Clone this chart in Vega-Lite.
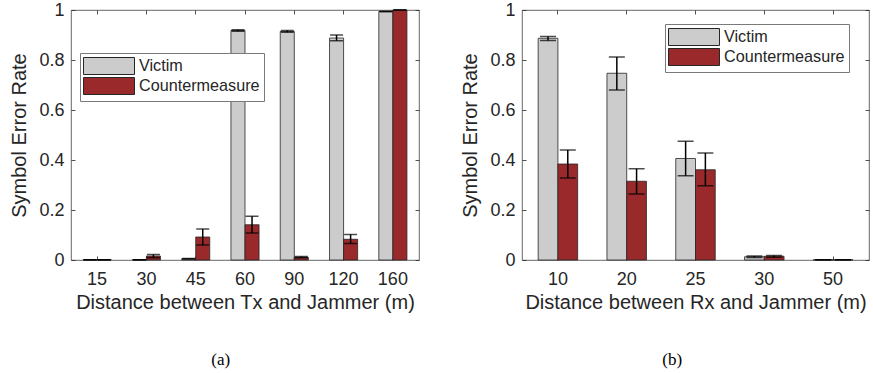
{
  "$schema": "https://vega.github.io/schema/vega-lite/v6.json",
  "padding": {"left": 9, "top": 0, "right": 0, "bottom": 0},
  "background": "white",
  "config": {
    "view": {"stroke": "#404040", "strokeWidth": 0.8},
    "axis": {
      "domain": false, "grid": false,
      "tickColor": "#262626", "tickSize": -4, "tickWidth": 0.8,
      "labelFont": "Liberation Sans", "labelFontSize": 18, "labelColor": "#262626",
      "titleFont": "Liberation Sans", "titleFontSize": 20, "titleFontWeight": "normal", "titleColor": "#262626"
    },
    "legend": {
      "orient": "none", "title": null,
      "symbolType": "M-3,-1H3V1H-3Z", "symbolSize": 289,
      "symbolStrokeColor": "#262626", "symbolStrokeWidth": 1, "symbolOpacity": 1,
      "symbolOffset": 16, "labelOffset": 21,
      "strokeColor": "#7a7a7a", "fillColor": "white", "padding": 4,
      "labelFont": "Liberation Sans", "labelFontSize": 16.2, "labelColor": "#262626",
      "rowPadding": -2.5, "labelLimit": 300
    },
    "title": {"font": "Liberation Serif", "fontSize": 17, "fontWeight": "normal", "color": "black", "orient": "bottom", "anchor": "middle", "frame": "bounds", "offset": 40}
  },
  "datasets": {
    "a": [
      {"dist": "15", "series": "Victim", "value": 0.001, "lo": 0.001, "hi": 0.001},
      {"dist": "15", "series": "Countermeasure", "value": 0.001, "lo": 0.001, "hi": 0.001},
      {"dist": "30", "series": "Victim", "value": 0.001, "lo": 0.001, "hi": 0.001},
      {"dist": "30", "series": "Countermeasure", "value": 0.016, "lo": 0.009, "hi": 0.022},
      {"dist": "45", "series": "Victim", "value": 0.005, "lo": 0.004, "hi": 0.006},
      {"dist": "45", "series": "Countermeasure", "value": 0.092, "lo": 0.06, "hi": 0.124},
      {"dist": "60", "series": "Victim", "value": 0.918, "lo": 0.915, "hi": 0.921},
      {"dist": "60", "series": "Countermeasure", "value": 0.141, "lo": 0.108, "hi": 0.175},
      {"dist": "90", "series": "Victim", "value": 0.914, "lo": 0.911, "hi": 0.918},
      {"dist": "90", "series": "Countermeasure", "value": 0.011, "lo": 0.009, "hi": 0.014},
      {"dist": "120", "series": "Victim", "value": 0.888, "lo": 0.877, "hi": 0.9},
      {"dist": "120", "series": "Countermeasure", "value": 0.083, "lo": 0.066, "hi": 0.102},
      {"dist": "160", "series": "Victim", "value": 0.994, "lo": 0.993, "hi": 0.995},
      {"dist": "160", "series": "Countermeasure", "value": 1.0, "lo": 1.0, "hi": 1.0}
    ],
    "b": [
      {"dist": "10", "series": "Victim", "value": 0.887, "lo": 0.878, "hi": 0.894},
      {"dist": "10", "series": "Countermeasure", "value": 0.384, "lo": 0.328, "hi": 0.44},
      {"dist": "20", "series": "Victim", "value": 0.747, "lo": 0.68, "hi": 0.812},
      {"dist": "20", "series": "Countermeasure", "value": 0.315, "lo": 0.264, "hi": 0.365},
      {"dist": "25", "series": "Victim", "value": 0.406, "lo": 0.337, "hi": 0.475},
      {"dist": "25", "series": "Countermeasure", "value": 0.361, "lo": 0.297, "hi": 0.428},
      {"dist": "30", "series": "Victim", "value": 0.013, "lo": 0.01, "hi": 0.016},
      {"dist": "30", "series": "Countermeasure", "value": 0.015, "lo": 0.011, "hi": 0.018},
      {"dist": "50", "series": "Victim", "value": 0.001, "lo": 0.001, "hi": 0.001},
      {"dist": "50", "series": "Countermeasure", "value": 0.001, "lo": 0.001, "hi": 0.001}
    ]
  },
  "spacing": 40,
  "resolve": {"scale": {"color": "independent", "xOffset": "independent"}, "legend": {"color": "independent"}},
  "hconcat": [
    {
      "width": 348, "height": 250,
      "data": {"name": "a"},
      "title": {"text": "(a)", "dx": 6},
      "resolve": {"axis": {"x": "independent", "y": "independent"}},
      "layer": [
        {
          "mark": {"type": "bar", "stroke": "#262626", "strokeWidth": 0.8},
          "encoding": {
            "x": {"field": "dist", "type": "nominal", "sort": ["15", "30", "45", "60", "90", "120", "160"],
                  "scale": {"paddingInner": 0.43, "paddingOuter": 0.245},
                  "axis": {"orient": "bottom", "title": "Distance between Tx and Jammer (m)", "labelAngle": 0, "labelPadding": 14, "titlePadding": 4}},
            "xOffset": {"field": "series", "type": "nominal", "sort": ["Victim", "Countermeasure"], "scale": {"paddingInner": 0, "paddingOuter": 0}},
            "y": {"field": "value", "type": "quantitative", "scale": {"domain": [0, 1], "nice": false},
                  "axis": {"orient": "left", "title": "Symbol Error Rate", "values": [0, 0.2, 0.4, 0.6, 0.8, 1], "format": "~g", "labelPadding": 11, "titlePadding": 9}},
            "color": {"field": "series", "type": "nominal", "sort": ["Victim", "Countermeasure"],
                      "scale": {"domain": ["Victim", "Countermeasure"], "range": ["#cccccc", "#99292a"]},
                      "legend": {"legendX": 9, "legendY": 43}}
          }
        },
        {
          "mark": {"type": "rule", "color": "black", "strokeWidth": 1.5},
          "encoding": {
            "x": {"field": "dist", "type": "nominal", "sort": ["15", "30", "45", "60", "90", "120", "160"], "axis": null},
            "xOffset": {"field": "series", "type": "nominal", "sort": ["Victim", "Countermeasure"]},
            "y": {"field": "lo", "type": "quantitative", "axis": null},
            "y2": {"field": "hi"}
          }
        },
        {
          "mark": {"type": "tick", "color": "black", "thickness": 1.5, "size": 13},
          "encoding": {
            "x": {"field": "dist", "type": "nominal", "sort": ["15", "30", "45", "60", "90", "120", "160"],
                  "axis": {"orient": "top", "labels": false, "title": null}},
            "xOffset": {"field": "series", "type": "nominal", "sort": ["Victim", "Countermeasure"]},
            "y": {"field": "lo", "type": "quantitative",
                  "axis": {"orient": "right", "labels": false, "title": null, "values": [0, 0.2, 0.4, 0.6, 0.8, 1]}}
          }
        },
        {
          "mark": {"type": "tick", "color": "black", "thickness": 1.5, "size": 13},
          "encoding": {
            "x": {"field": "dist", "type": "nominal", "sort": ["15", "30", "45", "60", "90", "120", "160"], "axis": null},
            "xOffset": {"field": "series", "type": "nominal", "sort": ["Victim", "Countermeasure"]},
            "y": {"field": "hi", "type": "quantitative", "axis": null}
          }
        }
      ]
    },
    {
      "width": 347, "height": 250,
      "data": {"name": "b"},
      "title": {"text": "(b)", "dx": 7},
      "resolve": {"axis": {"x": "independent", "y": "independent"}},
      "layer": [
        {
          "mark": {"type": "bar", "stroke": "#262626", "strokeWidth": 0.8},
          "encoding": {
            "x": {"field": "dist", "type": "nominal", "sort": ["10", "20", "25", "30", "50"],
                  "scale": {"paddingInner": 0.426, "paddingOuter": 0.235},
                  "axis": {"orient": "bottom", "title": "Distance between Rx and Jammer (m)", "labelAngle": 0, "labelPadding": 14, "titlePadding": 4}},
            "xOffset": {"field": "series", "type": "nominal", "sort": ["Victim", "Countermeasure"], "scale": {"paddingInner": 0, "paddingOuter": 0}},
            "y": {"field": "value", "type": "quantitative", "scale": {"domain": [0, 1], "nice": false},
                  "axis": {"orient": "left", "title": "Symbol Error Rate", "values": [0, 0.2, 0.4, 0.6, 0.8, 1], "format": "~g", "labelPadding": 11, "titlePadding": 9}},
            "color": {"field": "series", "type": "nominal", "sort": ["Victim", "Countermeasure"],
                      "scale": {"domain": ["Victim", "Countermeasure"], "range": ["#cccccc", "#99292a"]},
                      "legend": {"legendX": 143, "legendY": 14}}
          }
        },
        {
          "mark": {"type": "rule", "color": "black", "strokeWidth": 1.5},
          "encoding": {
            "x": {"field": "dist", "type": "nominal", "sort": ["10", "20", "25", "30", "50"], "axis": null},
            "xOffset": {"field": "series", "type": "nominal", "sort": ["Victim", "Countermeasure"]},
            "y": {"field": "lo", "type": "quantitative", "axis": null},
            "y2": {"field": "hi"}
          }
        },
        {
          "mark": {"type": "tick", "color": "black", "thickness": 1.5, "size": 16},
          "encoding": {
            "x": {"field": "dist", "type": "nominal", "sort": ["10", "20", "25", "30", "50"],
                  "axis": {"orient": "top", "labels": false, "title": null}},
            "xOffset": {"field": "series", "type": "nominal", "sort": ["Victim", "Countermeasure"]},
            "y": {"field": "lo", "type": "quantitative",
                  "axis": {"orient": "right", "labels": false, "title": null, "values": [0, 0.2, 0.4, 0.6, 0.8, 1]}}
          }
        },
        {
          "mark": {"type": "tick", "color": "black", "thickness": 1.5, "size": 16},
          "encoding": {
            "x": {"field": "dist", "type": "nominal", "sort": ["10", "20", "25", "30", "50"], "axis": null},
            "xOffset": {"field": "series", "type": "nominal", "sort": ["Victim", "Countermeasure"]},
            "y": {"field": "hi", "type": "quantitative", "axis": null}
          }
        }
      ]
    }
  ]
}
